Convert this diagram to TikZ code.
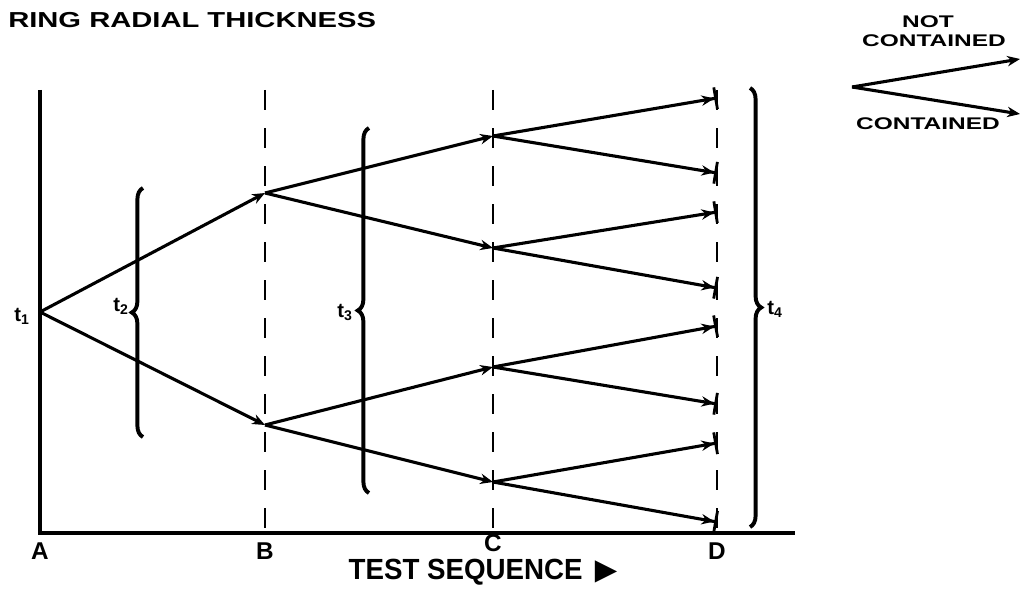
\documentclass[tikz,border=0pt]{standalone}
\usepackage{fontspec}
\setmainfont{Liberation Sans}
\newfontfamily\rrsym{DejaVu Sans}
\usepackage{tikz}
\usetikzlibrary{arrows.meta,decorations.pathreplacing}
\tikzset{
  rrgrid/.style={line width=1.8pt, dash pattern=on 0.5cm off 0.45cm},
  rraxis/.style={line width=2.4pt},
  rrarr/.style={-{Stealth[length=3.2mm,width=2.6mm]}, line width=2.2pt},
  rrend/.style={-{Stealth[length=3.2mm,width=2.6mm,sep=0pt]Bar[width=5.5mm,line width=2pt]}, line width=2.2pt},
  rrbrace/.style={decorate, decoration={brace,amplitude=0.28cm}, line width=2.8pt},
  rrtlabel/.style={font=\bfseries\Large, inner sep=1pt},
  rrletter/.style={font=\bfseries\LARGE, inner sep=0pt},
  rrlegend/.style={font=\bfseries\large, inner sep=0pt}
}

\begin{document}
\begin{tikzpicture}[x=0.025cm, y=-0.025cm]
  \useasboundingbox (0,0) rectangle (1020,590);
  \node[font=\bfseries\Large, inner sep=0pt, anchor=west] (title) at (8,20)
    {\scalebox{1.44}[1.07]{RING RADIAL THICKNESS}};

  % axes and test stations
  \coordinate (top) at (40,90);
  \coordinate (orig) at (40,533);
  \coordinate (xend) at (795,533);
  \draw[rraxis] (top) -- (orig) -- (xend);
  \foreach \xs in {265,493,717}
    \draw[rrgrid] (\xs,90) -- (\xs,533);
  \node[rrletter] (lA) at (40,551) {A};
  \node[rrletter] (lB) at (265,551) {B};
  \node[rrletter] (lC) at (493,543) {C};
  \node[rrletter] (lD) at (717,551) {D};
  \node[font=\bfseries\LARGE, inner sep=0pt] (seq) at (483,572)
    {\scalebox{1.14}[1.2]{TEST SEQUENCE}\hspace{0.5em}{\rrsym\huge ▶}};

  % tree of outcomes
  \coordinate (a) at (40,312);
  \coordinate (b1) at (265,193);
  \coordinate (b2) at (265,425);
  \coordinate (c1) at (493,136);
  \coordinate (c2) at (493,248);
  \coordinate (c3) at (493,367);
  \coordinate (c4) at (493,482);
  \foreach \n/\yy in {1/98,2/173,3/212,4/288,5/326,6/404,7/443,8/522}
    \coordinate (d\n) at (717,\yy);
  \draw[rrarr] (a) -- (b1);
  \draw[rrarr] (a) -- (b2);
  \draw[rrarr] (b1) -- (c1);
  \draw[rrarr] (b1) -- (c2);
  \draw[rrarr] (b2) -- (c3);
  \draw[rrarr] (b2) -- (c4);
  \draw[rrend] (c1) -- (d1);
  \draw[rrend] (c1) -- (d2);
  \draw[rrend] (c2) -- (d3);
  \draw[rrend] (c2) -- (d4);
  \draw[rrend] (c3) -- (d5);
  \draw[rrend] (c3) -- (d6);
  \draw[rrend] (c4) -- (d7);
  \draw[rrend] (c4) -- (d8);

  % braces
  \draw[rrbrace] (143,437) -- (143,188);
  \draw[rrbrace] (369,493) -- (369,128);
  \draw[rrbrace] (750,88) -- (750,527);
  \node[rrtlabel] (t1) at (22,316) {t\textsubscript{1}};
  \node[rrtlabel] (t2) at (121,306) {t\textsubscript{2}};
  \node[rrtlabel] (t3) at (345,312) {t\textsubscript{3}};
  \node[rrtlabel] (t4) at (775,309) {t\textsubscript{4}};

  % legend
  \coordinate (lg) at (852,87);
  \coordinate (lgu) at (1020,59);
  \coordinate (lgl) at (1020,114);
  \draw[rrarr] (lg) -- (lgu);
  \draw[rrarr] (lg) -- (lgl);
  \node[rrlegend] (nc1) at (928,22) {\scalebox{1.45}[1]{NOT}};
  \node[rrlegend] (nc2) at (934,41) {\scalebox{1.45}[1]{CONTAINED}};
  \node[rrlegend] (co) at (928,124) {\scalebox{1.45}[1]{CONTAINED}};
\end{tikzpicture}
\end{document}
